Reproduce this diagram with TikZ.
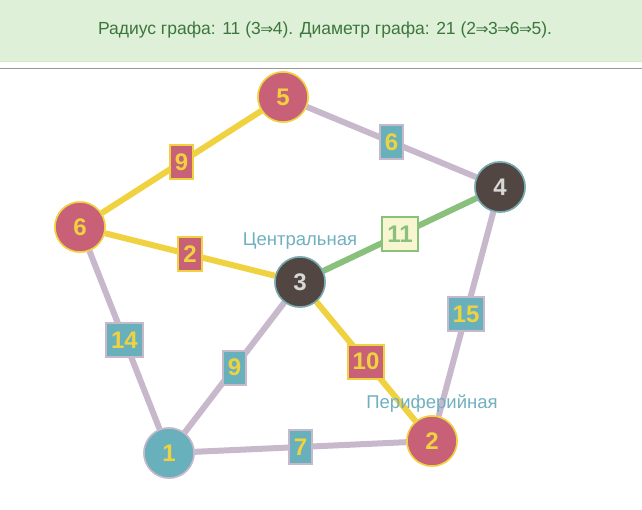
\documentclass[tikz,border=0pt]{standalone}
\usepackage{fontspec}
\setmainfont{Liberation Sans}
\newfontfamily\arrowfont{DejaVu Sans}
\newcommand{\ar}{{\arrowfont\fontsize{15.5}{15.5}\selectfont\kern-0.5pt⇒\kern-0.5pt}}
\definecolor{hdrbg}{RGB}{223,240,216}
\definecolor{hdrbd}{RGB}{214,233,198}
\definecolor{hdrtx}{RGB}{60,118,61}
\definecolor{gold}{RGB}{240,210,64}
\definecolor{lilac}{RGB}{200,184,204}
\definecolor{grn}{RGB}{136,192,124}
\definecolor{rose}{RGB}{200,96,120}
\definecolor{dark}{RGB}{82,70,66}
\definecolor{teal}{RGB}{104,176,188}
\definecolor{pale}{RGB}{248,246,208}
\definecolor{lbl}{RGB}{112,176,192}
\definecolor{lightnum}{RGB}{216,216,216}
\definecolor{darkbd}{RGB}{120,170,176}
\tikzset{
  x=1pt, y=-1pt,
  vert/.style={circle, minimum size=50pt, inner sep=0pt, line width=1.5pt, font=\fontsize{24}{24}\selectfont\bfseries},
  vrose/.style={vert, fill=rose, draw=gold, text=gold},
  vdark/.style={vert, fill=dark, draw=darkbd, text=lightnum},
  vteal/.style={vert, fill=teal, draw=lilac, text=gold},
  edg/.style={line width=6pt},
  ygold/.style={edg, draw=gold},
  ylil/.style={edg, draw=lilac},
  ygrn/.style={edg, draw=grn},
  wt/.style={rectangle, line width=2pt, inner xsep=5pt, inner ysep=4.5pt, minimum height=34pt, font=\fontsize{24}{24}\selectfont\bfseries},
  wgold/.style={wt, fill=rose, draw=gold, text=gold},
  wlil/.style={wt, fill=teal, draw=lilac, text=gold},
  wgrn/.style={wt, fill=pale, draw=grn, text=grn},
  tag/.style={text=lbl, font=\fontsize{18.5}{18.5}\selectfont, inner sep=0pt}
}
\begin{document}
\begin{tikzpicture}
\useasboundingbox (0,0) rectangle (642,510);
\fill[white] (0,0) rectangle (642,510);
\fill[hdrbg] (0,0) rectangle (642,62);
\draw[hdrbd, line width=1pt] (0,61.5) -- (642,61.5);
\draw[gray!80, line width=1.2pt] (0,68.3) -- (642,68.3);
\node[text=hdrtx, font=\fontsize{17.5}{17.5}\selectfont, inner sep=0pt] (hdr) at (325,30) {Радиус графа: 11 (3\ar4). Диаметр графа: 21 (2\ar3\ar6\ar5).};

\node[vteal] (n1) at (169,453) {};
\node[vrose] (n2) at (432,441) {};
\node[vdark] (n3) at (300,282) {};
\node[vdark] (n4) at (500,187) {};
\node[vrose] (n5) at (283,97) {};
\node[vrose] (n6) at (80,227) {};

\draw[ylil] (n5) -- (n4) node[midway, wlil] (w54) {6};
\draw[ylil] (n4) -- (n2) node[midway, wlil] (w42) {15};
\draw[ylil] (n6) -- (n1) node[midway, wlil] (w61) {14};
\draw[ylil] (n3) -- (n1) node[midway, wlil] (w31) {9};
\draw[ylil] (n1) -- (n2) node[midway, wlil] (w12) {7};
\draw[ygold] (n6) -- (n5) node[midway, wgold] (w65) {9};
\draw[ygold] (n6) -- (n3) node[midway, wgold] (w63) {2};
\draw[ygold] (n3) -- (n2) node[midway, wgold] (w32) {10};
\draw[ygrn] (n3) -- (n4) node[midway, wgrn] (w34) {11};

\node[vteal] (m1) at (n1) {1};
\node[vrose] (m2) at (n2) {2};
\node[vdark] (m3) at (n3) {3};
\node[vdark] (m4) at (n4) {4};
\node[vrose] (m5) at (n5) {5};
\node[vrose] (m6) at (n6) {6};

\node[tag] (tc) at (300,241) {Центральная};
\node[tag] (tp) at (432,404) {Периферийная};
\end{tikzpicture}
\end{document}
